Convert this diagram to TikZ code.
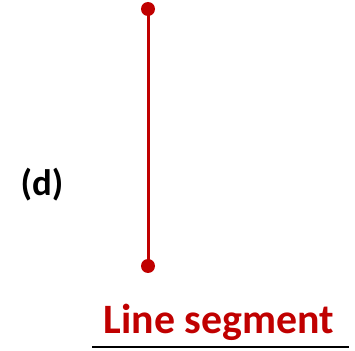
\documentclass[tikz,border=0pt]{standalone}
\usepackage{fontspec}
\setmainfont{Carlito}
\definecolor{segred}{HTML}{C00000}
\begin{document}
\begin{tikzpicture}[x=1bp,y=1bp,
  dotstyle/.style={circle,fill=segred,inner sep=0pt,minimum size=14bp},
  lbl/.style={font=\bfseries\fontsize{42}{42}\selectfont,text=segred,anchor=base,inner sep=0pt},
  tag/.style={font=\bfseries\fontsize{37}{37}\selectfont,anchor=base,inner sep=0pt}]
\useasboundingbox (0,0) rectangle (355,351);
\node[dotstyle] (top) at (148,342) {};
\node[dotstyle] (bot) at (148,85) {};
\draw[segred,line width=3bp] (top.center) -- (bot.center);
\node[tag] (d) at (42,156) {(d)};
\node[lbl] (title) at (219,18) {Line segment};
\coordinate (ul) at (92,4);
\coordinate (ur) at (349,4);
\draw[black,line width=2.5bp] (ul) -- (ur);
\end{tikzpicture}
\end{document}
